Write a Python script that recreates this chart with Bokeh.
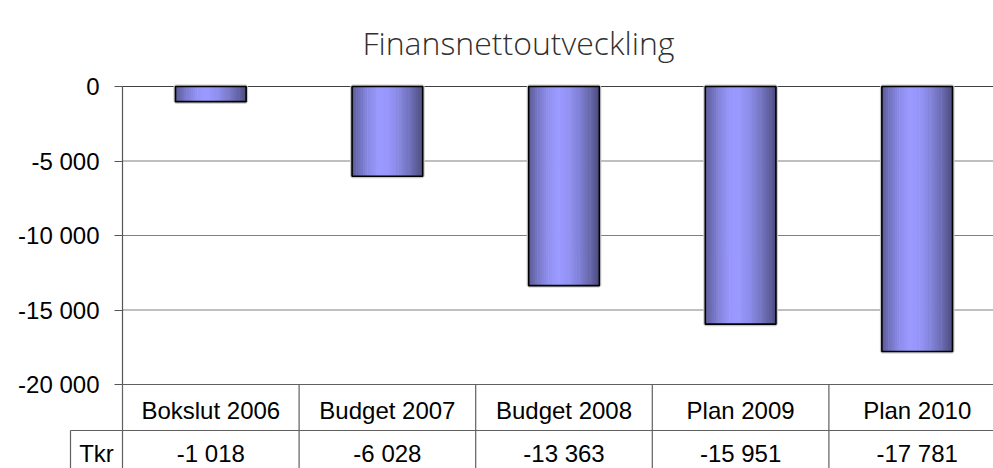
from bokeh.plotting import figure
from bokeh.models import Range1d, LinearAxis, FixedTicker, Label, ColumnDataSource
from bokeh.embed import file_html
from bokeh.resources import INLINE
from bokeh.core.properties import value

# ---- data ----
title_text = "Finansnettoutveckling"
categories = ["Bokslut 2006", "Budget 2007", "Budget 2008", "Plan 2009", "Plan 2010"]
values = [-1018, -6028, -13363, -15951, -17781]
row_label = "Tkr"
y_ticks = [0, -5000, -10000, -15000, -20000]
y_tick_labels = ["0", "-5 000", "-10 000", "-15 000", "-20 000"]

# ---- layout constants (pixels) ----
W, H = 993, 468
CAT_PX = 176.6            # width of one category column
UNIT_PX = 74.5 / 5000     # pixels per value unit
X0_PX = 122               # figure x of the value axis
Y0_PX = 86                # figure y (from top) of value 0
BAR_W = 0.4
FONT = "Liberation Sans"
FS = "24px"

x_start = -X0_PX / CAT_PX
x_end = (W - X0_PX) / CAT_PX
y_end = Y0_PX / UNIT_PX
y_start = -(H - Y0_PX) / UNIT_PX

p = figure(width=W, height=H, output_backend="svg", toolbar_location=None,
           x_axis_type=None, y_axis_type=None,
           x_range=Range1d(x_start, x_end), y_range=Range1d(y_start, y_end),
           min_border=0, min_border_left=0, min_border_right=0,
           min_border_top=0, min_border_bottom=0)
p.outline_line_color = None
p.background_fill_color = "white"
p.border_fill_color = "white"

n = len(categories)
xc = [i + 0.5 for i in range(n)]
y_bottom = y_ticks[-1]

# ---- grid lines ----
grid_y = y_ticks[1:-1]
p.segment(x0=[0] * len(grid_y), x1=[x_end] * len(grid_y), y0=grid_y, y1=grid_y,
          line_color="#808080", line_width=1.2)
p.segment(x0=[0], x1=[x_end], y0=[y_ticks[0]], y1=[y_ticks[0]],
          line_color="#404040", line_width=1.2)

# ---- bars with cylinder shading ----
p.vbar(x=xc, top=[0] * n, bottom=values, width=BAR_W, fill_color=None,
       line_color="#c8c8c8", line_width=4)

N = 32
dark_l = (88, 88, 148)
dark_r = (76, 76, 126)
light = (153, 153, 255)
peak = 0.42
sx, sb, sc = [], [], []
for i, v in enumerate(values):
    for k in range(N):
        t = (k + 0.5) / N
        if t < peak:
            d = (peak - t) / peak
            dk = dark_l
        else:
            d = (t - peak) / (1 - peak)
            dk = dark_r
        m = 1 - d ** 1.7
        col = tuple(int(round(dk[j] + (light[j] - dk[j]) * m)) for j in range(3))
        sx.append(xc[i] - BAR_W / 2 + t * BAR_W)
        sb.append(v)
        sc.append("#%02x%02x%02x" % col)
src = ColumnDataSource(dict(x=sx, bottom=sb, top=[0] * len(sx), color=sc))
p.vbar(x="x", top="top", bottom="bottom", width=BAR_W / N * 1.25, source=src,
       fill_color="color", line_color=None)
p.vbar(x=xc, top=[0] * n, bottom=values, width=BAR_W, fill_color=None,
       line_color="black", line_width=1.6)

# ---- value axis ----
axis = LinearAxis(fixed_location=0, bounds=(y_ticks[-1], y_ticks[0]),
                  ticker=FixedTicker(ticks=y_ticks),
                  major_label_overrides={t: l for t, l in zip(y_ticks, y_tick_labels)},
                  major_tick_out=8, major_tick_in=0, minor_tick_out=0, minor_tick_in=0,
                  axis_line_color="#555555", major_tick_line_color="#555555",
                  axis_line_width=1.2, major_tick_line_width=1.2,
                  major_label_text_font=FONT, major_label_text_font_size=FS,
                  major_label_text_color="black", major_label_standoff=15)
p.add_layout(axis, "left")

# ---- data table ----
row1_bottom = y_bottom - 46 / UNIT_PX
tkr_left = -52 / CAT_PX
tbl = "#606060"
p.segment(x0=[0], x1=[x_end], y0=[y_bottom], y1=[y_bottom], line_color=tbl, line_width=1.2)
p.segment(x0=[tkr_left], x1=[x_end], y0=[row1_bottom], y1=[row1_bottom], line_color=tbl, line_width=1.2)
vx = list(range(n))
p.segment(x0=vx, x1=vx, y0=[y_bottom] * n, y1=[y_start] * n, line_color=tbl, line_width=1.2)
p.segment(x0=[tkr_left], x1=[tkr_left], y0=[row1_bottom], y1=[y_start], line_color=tbl, line_width=1.2)

row1_y = y_bottom - 26 / UNIT_PX
row2_y = y_bottom - 69 / UNIT_PX
p.text(x=xc, y=[row1_y] * n, text=categories, text_align="center", text_baseline="middle",
       text_font=value(FONT), text_font_size=FS, text_color="black")
val_labels = [f"{v:,}".replace(",", " ") for v in values]
p.text(x=xc, y=[row2_y] * n, text=val_labels, text_align="center", text_baseline="middle",
       text_font=value(FONT), text_font_size=FS, text_color="black")
p.text(x=[tkr_left / 2], y=[row2_y], text=[row_label], text_align="center", text_baseline="middle",
       text_font=value(FONT), text_font_size=FS, text_color="black")

# ---- title ----
p.add_layout(Label(x=518, y=H - 42, x_units="screen", y_units="screen", text=title_text,
                   text_align="center", text_baseline="alphabetic",
                   text_font="Open Sans Light", text_font_size="32px",
                   text_color="#303030"))

open("out.html", "w").write(file_html(p, INLINE))
